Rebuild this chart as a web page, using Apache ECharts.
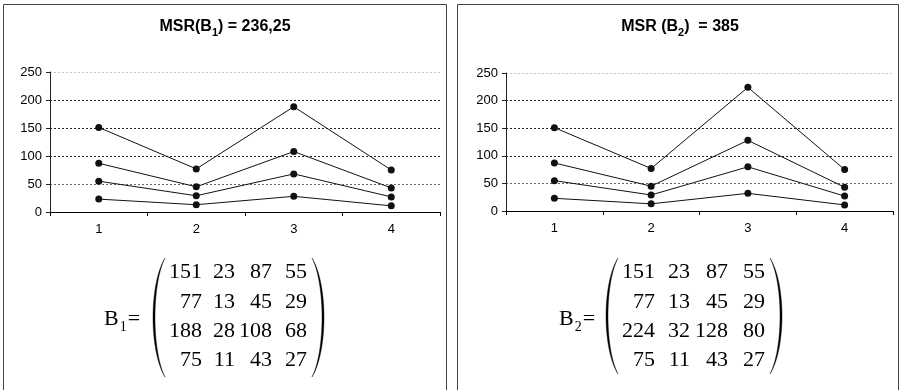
<!DOCTYPE html>
<html><head><meta charset="utf-8">
<script src="https://cdn.jsdelivr.net/npm/echarts@6/dist/echarts.min.js"></script>
<style>html,body{margin:0;padding:0;background:#fff}#c{width:903px;height:390px}</style>
</head><body><div id="c"></div>
<script>
// ---- data ----
const categories = ['1', '2', '3', '4'];
const B1 = [
  [151, 23, 87, 55],
  [77, 13, 45, 29],
  [188, 28, 108, 68],
  [75, 11, 43, 27]
];
const B2 = [
  [151, 23, 87, 55],
  [77, 13, 45, 29],
  [224, 32, 128, 80],
  [75, 11, 43, 27]
];
const yMin = 0, yMax = 250, yStep = 50;
const title1 = { main: 'MSR(B', sub: '1', rest: ') = 236,25' };
const title2 = { main: 'MSR (B', sub: '2', rest: ')  = 385' };
const matName1 = { name: 'B', sub: '1' };
const matName2 = { name: 'B', sub: '2' };

// ---- build ----
const chart = echarts.init(document.getElementById('c'));
const SANS = 'Liberation Sans, Arial, sans-serif';
const SERIF = 'Liberation Serif, Times New Roman, serif';

function xAxis(gi) {
  return {
    gridIndex: gi, type: 'category', data: categories, boundaryGap: true,
    axisLine: { lineStyle: { color: '#000', width: 1 } },
    axisTick: { show: true, length: 4, lineStyle: { color: '#000' } },
    axisLabel: { color: '#000', fontSize: 13, fontFamily: SANS, margin: 11 },
    splitLine: { show: false }
  };
}
function yAxis(gi) {
  return {
    gridIndex: gi, type: 'value', min: yMin, max: yMax, interval: yStep,
    axisLine: { show: true, lineStyle: { color: '#222', width: 1 } },
    axisTick: { show: true, length: 4, lineStyle: { color: '#222' } },
    axisLabel: { color: '#000', fontSize: 13, fontFamily: SANS, margin: 8 },
    splitLine: { show: true, lineStyle: { type: [2, 2], width: 1, color: ['#000', '#666', '#222', '#222', '#222', '#c4c4c4'] } }
  };
}
function seriesFor(B, gi) {
  return [0, 1, 2, 3].map(j => ({
    type: 'line', xAxisIndex: gi, yAxisIndex: gi,
    data: B.map(row => row[j]),
    symbol: 'circle', symbolSize: 7,
    lineStyle: { color: '#111', width: 1 },
    itemStyle: { color: '#111' },
    silent: true, animation: false
  }));
}
function titleGraphic(t, cx) {
  return {
    type: 'text', x: cx, y: 27,
    style: {
      text: '{a|' + t.main + '}{s|' + t.sub + '}{a|' + t.rest + '}',
      align: 'center', verticalAlign: 'middle',
      rich: {
        a: { fontFamily: SANS, fontWeight: 'bold', fontSize: 16, lineHeight: 22, verticalAlign: 'middle', fill: '#000' },
        s: { fontFamily: SANS, fontWeight: 'bold', fontSize: 11, lineHeight: 22, verticalAlign: 'bottom', fill: '#000' }
      }
    }
  };
}
// decorative parenthesis as a crescent polygon (cubic curves sampled)
function parenShape(xTip, xOut, xIn, yT, yB) {
  const co = xTip + (xOut - xTip) / 0.75;
  const ci = xTip + (xIn - xTip) / 0.75;
  const cub = (p0, p1, p2, p3, t) => {
    const u = 1 - t;
    return u * u * u * p0 + 3 * u * u * t * p1 + 3 * u * t * t * p2 + t * t * t * p3;
  };
  const h = yB - yT;
  const pts = [];
  const N = 48;
  for (let k = 0; k <= N; k++) {
    const t = k / N;
    pts.push([cub(xTip, co, co, xTip, t), cub(yT, yT + h * 0.22, yB - h * 0.22, yB, t)]);
  }
  for (let k = N; k >= 0; k--) {
    const t = k / N;
    pts.push([cub(xTip, ci, ci, xTip, t), cub(yT, yT + h * 0.22, yB - h * 0.22, yB, t)]);
  }
  return { type: 'polygon', shape: { points: pts }, style: { fill: '#000', stroke: '#000', lineWidth: 0.4 } };
}
function matrixGraphics(B, name, nameX, colRight, rowY, paren) {
  const g = [];
  B.forEach((row, i) => row.forEach((v, j) => {
    g.push({ type: 'text', x: colRight[j], y: rowY[i],
      style: { text: String(v), align: 'right', verticalAlign: 'middle', fontFamily: SERIF, fontSize: 22, fill: '#000' } });
  }));
  g.push({ type: 'text', x: nameX, y: 319,
    style: {
      text: '{b|' + name.name + '}{s|' + name.sub + '}{b|=}', align: 'left', verticalAlign: 'middle',
      rich: {
        b: { fontFamily: SERIF, fontSize: 22, lineHeight: 30, verticalAlign: 'middle', fill: '#000' },
        s: { fontFamily: SERIF, fontSize: 14, lineHeight: 30, verticalAlign: 'bottom', fill: '#000', padding: [0, 1, 0, 1] }
      }
    } });
  g.push(parenShape(paren.l, paren.l - 12, paren.l - 10, paren.yT, paren.yB));
  g.push(parenShape(paren.r, paren.r + 12, paren.r + 10, paren.yT, paren.yB));
  return g;
}
const rowY = [272.5, 302, 331.5, 360.5];
const graphics = [
  { type: 'rect', shape: { x: 3.5, y: 4.5, width: 443, height: 400 }, style: { fill: 'none', stroke: '#444', lineWidth: 1 } },
  { type: 'rect', shape: { x: 457.5, y: 4.5, width: 441, height: 400 }, style: { fill: 'none', stroke: '#444', lineWidth: 1 } },
  titleGraphic(title1, 225),
  titleGraphic(title2, 680)
].concat(
  matrixGraphics(B1, matName1, 104, [202, 235, 272, 307], rowY, { l: 165, r: 312, yT: 258, yB: 377 }),
  matrixGraphics(B2, matName2, 559, [655, 690, 728, 765], rowY, { l: 618, r: 770, yT: 258, yB: 374 })
);

chart.setOption({
  animation: false,
  backgroundColor: '#fff',
  grid: [
    { left: 50, top: 72, width: 390, height: 140 },
    { left: 506, top: 73, width: 387, height: 138 }
  ],
  xAxis: [xAxis(0), xAxis(1)],
  yAxis: [yAxis(0), yAxis(1)],
  series: seriesFor(B1, 0).concat(seriesFor(B2, 1)),
  graphic: graphics
});
</script></body></html>
